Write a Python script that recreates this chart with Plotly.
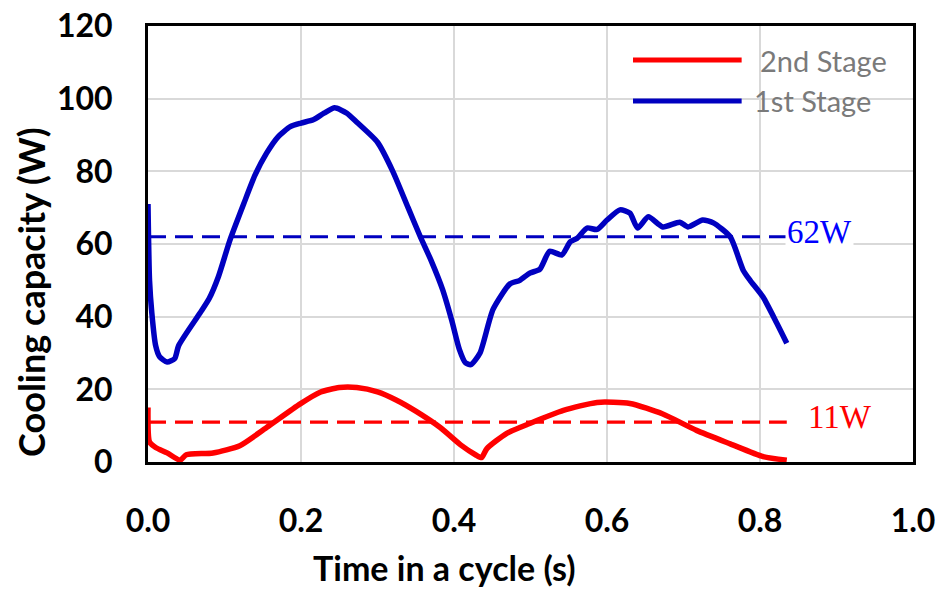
import plotly.graph_objects as go

# ---- data ----
stage1_t = [0, 0.002, 0.005, 0.01, 0.015, 0.025, 0.035, 0.04, 0.068, 0.08, 0.092, 0.107, 0.125,
            0.14, 0.155, 0.17, 0.186, 0.2, 0.216, 0.23, 0.244, 0.26, 0.273, 0.3, 0.32,
            0.34, 0.356, 0.37, 0.385, 0.397, 0.407, 0.415, 0.422, 0.434, 0.451, 0.473, 0.486, 0.499,
            0.512, 0.525, 0.541, 0.552, 0.561, 0.574, 0.587, 0.6, 0.617, 0.63, 0.64,
            0.654, 0.673, 0.695, 0.706, 0.725, 0.739, 0.761, 0.778, 0.787, 0.804, 0.822, 0.835]
stage1_w = [71, 50, 41, 32, 29, 27.5, 28.5, 32, 41, 45, 51, 61, 71,
            79, 85, 89.5, 92.3, 93.3, 94.2, 96, 97.5, 96, 93.5, 88, 80,
            70, 62, 55.5, 47.5, 39, 31, 27.3, 26.8, 30, 42, 49, 50, 52,
            53, 58, 57, 60.6, 61.6, 64.4, 64, 66.6, 69.4, 68.5, 64.4,
            67.5, 64.7, 66, 64.7, 66.6, 65.8, 62, 52.8, 50, 45.4, 38.2, 32.7]

stage2_t = [0, 0.002, 0.01, 0.025, 0.042, 0.05, 0.085, 0.12, 0.155, 0.199, 0.225, 0.25,
            0.273, 0.3, 0.325, 0.35, 0.382, 0.41, 0.428, 0.436, 0.443, 0.469, 0.499,
            0.543, 0.587, 0.63, 0.673, 0.717, 0.761, 0.804, 0.835]
stage2_w = [15, 5.5, 4, 2.5, 0.5, 2, 2.5, 4.5, 9.5, 16, 19.2, 20.5,
            20.5, 19.3, 17, 14, 9.5, 4.5, 2, 1.2, 3.7, 7.9, 10.6,
            14.2, 16.4, 16.1, 13.2, 8.7, 5, 1.5, 0.5]

mean_t = [0, 0.835]
stage1_mean = 62
stage2_mean = 11

x_ticks = [0.0, 0.2, 0.4, 0.6, 0.8, 1.0]
x_tick_labels = ["0.0", "0.2", "0.4", "0.6", "0.8", "1.0"]
y_ticks = [0, 20, 40, 60, 80, 100, 120]

BLUE = "#0000C0"
RED = "#FF0000"

fig = go.Figure()
fig.add_trace(go.Scatter(x=mean_t, y=[stage1_mean] * 2, mode="lines", showlegend=False,
                         line=dict(color=BLUE, width=3.2, dash="18px,9px"), hoverinfo="skip"))
fig.add_trace(go.Scatter(x=mean_t, y=[stage2_mean] * 2, mode="lines", showlegend=False,
                         line=dict(color=RED, width=3.2, dash="18px,9px"), hoverinfo="skip"))
fig.add_trace(go.Scatter(x=stage2_t, y=stage2_w, mode="lines", name="2nd Stage",
                         showlegend=False, line=dict(color=RED, width=5.5, shape="spline", smoothing=0.6)))
fig.add_trace(go.Scatter(x=stage1_t, y=stage1_w, mode="lines", name="1st Stage",
                         showlegend=False, line=dict(color=BLUE, width=5.5, shape="spline", smoothing=0.6)))

# manual legend (line swatches + labels)
legend_items = [("2nd Stage", RED, 0.922, 0.797), ("1st Stage", BLUE, 0.828, 0.789)]
shapes = []
annotations = []
for name, col, yp, xt in legend_items:
    shapes.append(dict(type="line", xref="paper", yref="paper", x0=0.634, x1=0.776, y0=yp, y1=yp,
                       line=dict(color=col, width=5)))
    annotations.append(dict(text=name, xref="paper", yref="paper", x=xt, y=yp, xanchor="left",
                            yanchor="middle", showarrow=False,
                            font=dict(family="Lato", size=29, color="#7a7a7a")))

annotations.append(dict(text="62W", x=0.833, y=stage1_mean, xref="x", yref="y", xanchor="left",
                        yanchor="middle", showarrow=False, bgcolor="white", yshift=5,
                        font=dict(family="Liberation Serif", size=33, color="#0000FF")))
annotations.append(dict(text="11W", x=0.86, y=12.3, xref="x", yref="y", xanchor="left",
                        yanchor="middle", showarrow=False,
                        font=dict(family="Liberation Serif", size=33, color="#FF0000")))
annotations.append(dict(text="Time in a cycle (s)", xref="paper", yref="paper", x=0.388, y=-0.243,
                        xanchor="center", yanchor="middle", showarrow=False,
                        font=dict(family="Lato", size=34, color="black", weight="bold")))
annotations.append(dict(text="Cooling capacity (W)", xref="paper", yref="paper", x=-0.153, y=0.39,
                        xanchor="center", yanchor="middle", showarrow=False, textangle=-90,
                        font=dict(family="Lato", size=36, color="black", weight="bold")))

fig.update_layout(
    width=946, height=589,
    margin=dict(l=148, r=33, t=26, b=127, autoexpand=False),
    paper_bgcolor="white", plot_bgcolor="white",
    shapes=shapes, annotations=annotations,
    xaxis=dict(range=[0, 1], tickvals=x_ticks, ticktext=x_tick_labels, automargin=False,
               showgrid=True, gridcolor="#d9d9d9", gridwidth=2, zeroline=False,
               showline=True, linecolor="black", linewidth=3, mirror=True,
               ticks="outside", ticklen=29, tickcolor="rgba(0,0,0,0)",
               tickfont=dict(family="Lato", size=32, color="black", weight="bold")),
    yaxis=dict(range=[0, 120], tickvals=y_ticks, automargin=False,
               showgrid=True, gridcolor="#d9d9d9", gridwidth=2, zeroline=False,
               showline=True, linecolor="black", linewidth=3, mirror=True,
               ticks="outside", ticklen=26, tickcolor="rgba(0,0,0,0)",
               tickfont=dict(family="Lato", size=32, color="black", weight="bold")),
)

fig.write_html("out.html")
